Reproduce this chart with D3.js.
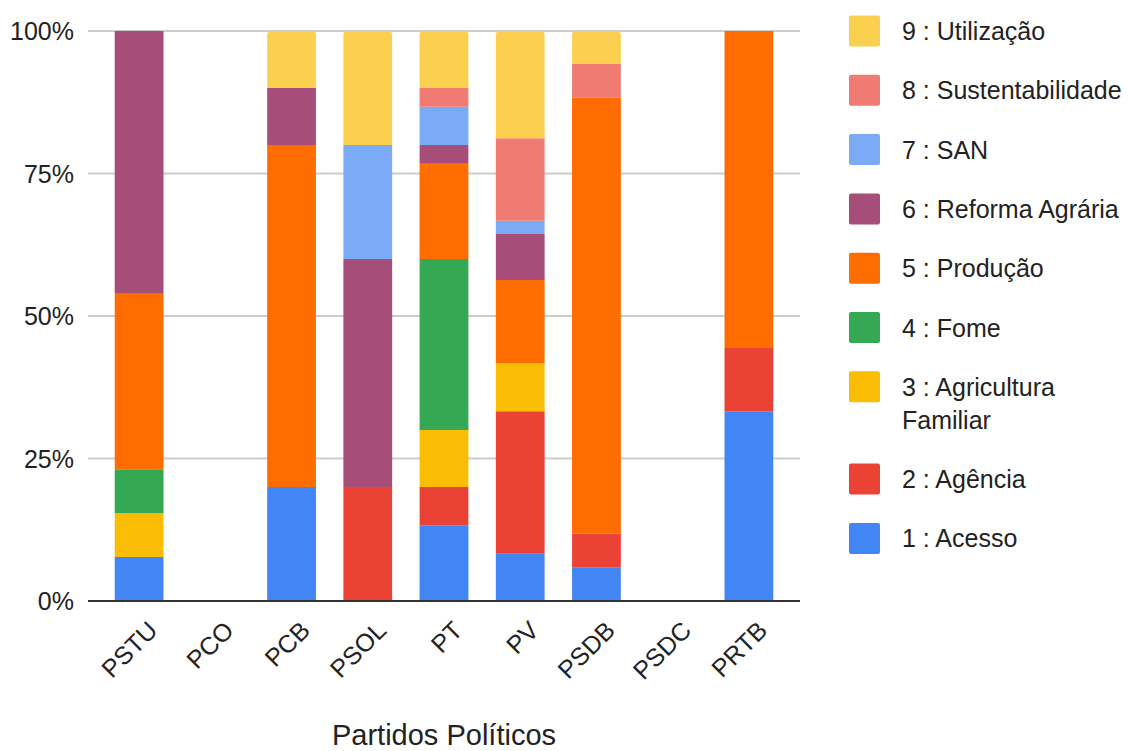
<!DOCTYPE html>
<html>
<head>
<meta charset="utf-8">
<script src="https://cdn.jsdelivr.net/npm/d3@7"></script>
<style>
  body { margin: 0; background: #fff; }
  text { font-family: "Liberation Sans", Arial, sans-serif; fill: #222; }
</style>
</head>
<body>
<div id="chart"></div>
<script>
// partidos no eixo x
var partidos = ["PSTU", "PCO", "PCB", "PSOL", "PT", "PV", "PSDB", "PSDC", "PRTB"];

// categorias (ordem da pilha, de baixo para cima)
var categorias = ["1 : Acesso", "2 : Agência", "3 : Agricultura Familiar", "4 : Fome",
                  "5 : Produção", "6 : Reforma Agrária", "7 : SAN", "8 : Sustentabilidade",
                  "9 : Utilização"];

var cores = ["#4285f4", "#ea4335", "#fbbc04", "#34a853", "#ff6d01",
             "#a64d79", "#7baaf7", "#f07b72", "#fcd04f"];

// percentuais, um array por partido (categorias 1..9)
var PSTU = [7.7, 0, 7.7, 7.7, 30.8, 46.1, 0, 0, 0];
var PCO  = [0, 0, 0, 0, 0, 0, 0, 0, 0];
var PCB  = [20, 0, 0, 0, 60, 10, 0, 0, 10];
var PSOL = [0, 20, 0, 0, 0, 40, 20, 0, 20];
var PT   = [13.3, 6.7, 10, 30, 16.7, 3.3, 6.7, 3.3, 10];
var PV   = [8.3, 25, 8.4, 0, 14.6, 8.1, 2.3, 14.5, 18.8];
var PSDB = [5.9, 5.9, 0, 0, 76.5, 0, 0, 5.9, 5.8];
var PSDC = [0, 0, 0, 0, 0, 0, 0, 0, 0];
var PRTB = [33.3, 11.1, 0, 0, 55.6, 0, 0, 0, 0];

var valores = [PSTU, PCO, PCB, PSOL, PT, PV, PSDB, PSDC, PRTB];

var yTicks = [0, 25, 50, 75, 100];

var W = 1129, H = 751;

var svg = d3.select("#chart").append("svg")
    .attr("width", W).attr("height", H);

var x = d3.scaleBand()
    .domain(partidos)
    .range([101, 787])
    .paddingInner(0.36)
    .paddingOuter(0.18);

var y = d3.scaleLinear()
    .domain([0, 100])
    .range([601, 31]);

// linhas de grade
svg.append("g")
    .selectAll("line")
    .data(yTicks.filter(function (d) { return d > 0; }))
    .enter().append("line")
    .attr("x1", 88).attr("x2", 800)
    .attr("y1", function (d) { return y(d); })
    .attr("y2", function (d) { return y(d); })
    .attr("stroke", "#cccccc")
    .attr("stroke-width", 2);

// rótulos do eixo y
svg.append("g")
    .selectAll("text")
    .data(yTicks)
    .enter().append("text")
    .attr("x", 74)
    .attr("y", function (d) { return y(d) + 9; })
    .attr("text-anchor", "end")
    .style("font-size", "25px")
    .text(function (d) { return d + "%"; });

// dados empilhados
var linhas = partidos.map(function (p, i) {
    var row = { partido: p };
    categorias.forEach(function (c, j) { row[c] = valores[i][j]; });
    return row;
});

var series = d3.stack().keys(categorias)(linhas);

var r = 4;
svg.append("g")
    .selectAll("g")
    .data(series)
    .enter().append("g")
    .attr("fill", function (d, i) { return cores[i]; })
    .selectAll("path")
    .data(function (d) { return d.map(function (s) { s.key = d.key; return s; }); })
    .enter().append("path")
    .attr("d", function (d) {
        var x0 = x(d.data.partido), w = x.bandwidth();
        var yt = y(d[1]), yb = y(d[0]);
        if (yb - yt <= 0) return "";
        var top = d.key === categorias[8];
        if (!top) return "M" + x0 + "," + yt + "h" + w + "V" + yb + "h" + (-w) + "Z";
        return "M" + x0 + "," + yb + "V" + (yt + r) + "Q" + x0 + "," + yt + " " + (x0 + r) + "," + yt +
            "H" + (x0 + w - r) + "Q" + (x0 + w) + "," + yt + " " + (x0 + w) + "," + (yt + r) +
            "V" + yb + "Z";
    });

// linha base
svg.append("line")
    .attr("x1", 88).attr("x2", 800)
    .attr("y1", y(0)).attr("y2", y(0))
    .attr("stroke", "#333")
    .attr("stroke-width", 2);

// rótulos do eixo x
svg.append("g")
    .selectAll("text")
    .data(partidos)
    .enter().append("text")
    .attr("transform", function (d) {
        return "translate(" + (x(d) + x.bandwidth() / 2 + 20) + ",632) rotate(-45)";
    })
    .attr("text-anchor", "end")
    .style("font-size", "25px")
    .text(function (d) { return d; });

// título do eixo
svg.append("text")
    .attr("x", 444).attr("y", 745)
    .attr("text-anchor", "middle")
    .style("font-size", "29px")
    .text("Partidos Políticos");

// legenda (de 9 para 1)
var leg = svg.append("g");
var yy = 15.5, maxW = 224;
categorias.slice().reverse().forEach(function (c) {
    var i = categorias.indexOf(c);
    leg.append("rect")
        .attr("x", 849).attr("y", yy)
        .attr("width", 31).attr("height", 31)
        .attr("rx", 2)
        .attr("fill", cores[i]);
    var t = leg.append("text")
        .attr("x", 902).attr("y", yy + 15.5 + 9)
        .style("font-size", "25px");
    var words = c.split(" "), line = [], n = 0;
    var ts = t.append("tspan").attr("x", 902);
    words.forEach(function (w) {
        line.push(w);
        ts.text(line.join(" "));
        if (ts.node().getComputedTextLength() > maxW && line.length > 1) {
            line.pop();
            ts.text(line.join(" "));
            line = [w];
            n++;
            ts = t.append("tspan").attr("x", 902).attr("dy", 33).text(w);
        }
    });
    yy += 59.3 + n * 33;
});
</script>
</body>
</html>
